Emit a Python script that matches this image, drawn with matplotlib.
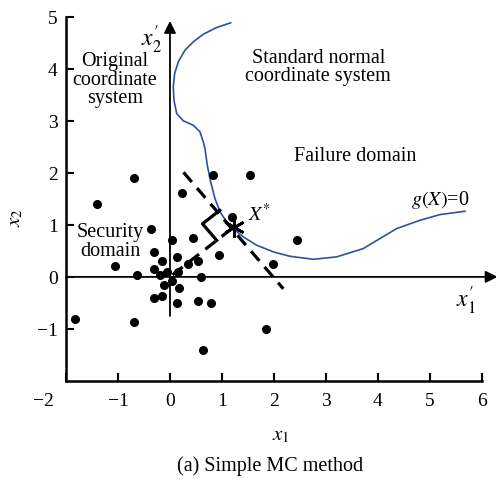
import matplotlib
matplotlib.use("Agg")
import matplotlib.pyplot as plt
import matplotlib.transforms as mtransforms
import numpy as np

plt.rcParams['font.family'] = 'Liberation Serif'
plt.rcParams['mathtext.fontset'] = 'stix'

# Monte Carlo sample points
sample_x = [-0.69, -1.41, -0.37, 0.04, -0.31, 0.13, -0.15, -1.06, -0.31, -0.06,
            -0.19, -0.64, 0.03, -0.12, 0.18, -0.31, -0.15, 0.14, 0.53, -1.82,
            -0.69, 0.64, 0.45, 0.24, 0.34, 0.53, 0.59, 0.83, 1.54, 1.19,
            2.44, 0.94, 1.99, 0.79, 1.85, 0.15]
sample_y = [1.90, 1.40, 0.92, 0.70, 0.48, 0.39, 0.30, 0.20, 0.15, 0.09,
            0.04, 0.03, -0.08, -0.15, -0.22, -0.41, -0.36, -0.51, -0.46, -0.81,
            -0.86, -1.40, 0.75, 1.61, 0.24, 0.31, -0.01, 1.96, 1.96, 1.15,
            0.71, 0.42, 0.25, -0.51, -1.01, 0.09]

# limit state curve g(X)=0
curve_x = [1.167, 0.898, 0.640, 0.448, 0.288, 0.160, 0.090, 0.063, 0.077, 0.129,
           0.256, 0.448, 0.577, 0.640, 0.673, 0.717, 0.783, 0.865, 0.962, 1.090,
           1.217, 1.410, 1.667, 1.987, 2.308, 2.756, 3.206, 3.717, 4.038, 4.360,
           4.808, 5.192, 5.673]
curve_y = [4.885, 4.794, 4.665, 4.519, 4.358, 4.135, 3.910, 3.654, 3.396, 3.140,
           3.000, 2.915, 2.788, 2.596, 2.467, 2.146, 1.827, 1.506, 1.250, 1.058,
           0.929, 0.769, 0.608, 0.481, 0.396, 0.338, 0.385, 0.544, 0.737, 0.929,
           1.088, 1.198, 1.262]

# design point and tangent line ends
xstar = (1.23, 0.96)
tangent_x = [0.26, 2.18]
tangent_y = [2.01, -0.23]

xticks = [-2, -1, 0, 1, 2, 3, 4, 5, 6]
yticks = [-1, 0, 1, 2, 3, 4, 5]

def fmt(t):
    return '\u2212%d' % -t if t < 0 else str(t)

fig = plt.figure(figsize=(4.96, 4.81), dpi=100)
ax = fig.add_axes([0.133, 0.206, 0.865, 0.757])
ax.set_xlim(-2, 6.25)
ax.set_ylim(-2, 5)

for s in ['top', 'right']:
    ax.spines[s].set_visible(False)
ax.spines['left'].set_bounds(-2, 5)
ax.spines['bottom'].set_bounds(-2, 6)
ax.spines['left'].set_linewidth(1.8)
ax.spines['bottom'].set_linewidth(1.8)

ax.set_xticks(xticks)
ax.set_yticks(yticks)
ax.set_xticklabels([fmt(t) for t in xticks])
ax.set_yticklabels([fmt(t) for t in yticks])
ax.tick_params(direction='in', length=6, width=1.5, labelsize=14, pad=8)
ax.tick_params(axis='y', pad=6)
# shift the corner label left
lab = ax.get_xticklabels()[0]
lab.set_transform(lab.get_transform() + mtransforms.ScaledTranslation(-0.23, 0, fig.dpi_scale_trans))

ax.set_xlabel('$x_1$', fontsize=15, labelpad=12)
ax.set_ylabel('$x_2$', fontsize=15)
ax.yaxis.set_label_coords(-0.095, 0.45)

# inner (standard normal) axes
ax.annotate('', xy=(6.3, 0), xytext=(-2, 0),
            arrowprops=dict(arrowstyle='-|>', color='black', lw=1.3,
                            mutation_scale=18, shrinkA=0, shrinkB=0),
            annotation_clip=False)
ax.annotate('', xy=(0, 4.92), xytext=(0, -0.75),
            arrowprops=dict(arrowstyle='-|>', color='black', lw=1.3,
                            mutation_scale=18, shrinkA=0, shrinkB=0),
            annotation_clip=False)

ax.plot(curve_x, curve_y, color='#2f4fa0', lw=1.2, solid_joinstyle='round')

# dashed lines
ax.plot([0.05, xstar[0]], [0.04, xstar[1]], color='black', lw=2.3,
        dashes=(4, 2.5))
ax.plot(tangent_x, tangent_y, color='black', lw=2.3, dashes=(4, 2.5))

# right angle marker
r = np.array(xstar) / np.hypot(*xstar)
t = np.array([tangent_x[0] - tangent_x[1], tangent_y[0] - tangent_y[1]])
t = t / np.hypot(*t)
d = 0.42
p0 = np.array(xstar)
c1 = p0 + d * t
c2 = p0 + d * t - d * r
c3 = p0 - d * r
ax.plot([c1[0], c2[0], c3[0]], [c1[1], c2[1], c3[1]], color='black', lw=2.3)

ax.plot(sample_x, sample_y, 'o', color='black', ms=5.5)
ax.plot(*xstar, marker=(6, 2, 0), color='black', ms=15, mew=2)

fs = 14.5
ax.text(-1.06, 3.8, 'Original\ncoordinate\nsystem', ha='center', va='center',
        fontsize=fs, linespacing=0.95)
ax.text(2.85, 4.04, 'Standard normal\ncoordinate system', ha='center', va='center',
        fontsize=fs, linespacing=0.95)
ax.text(3.56, 2.33, 'Failure domain', ha='center', va='center', fontsize=fs)
ax.text(5.2, 1.5, '$g(X)$=0', ha='center', va='center', fontsize=fs)
ax.text(1.5, 1.2, '$X^{*}$', ha='left', va='center', fontsize=fs)
ax.text(-1.15, 0.69, 'Security\ndomain', ha='center', va='center',
        fontsize=fs, linespacing=0.95)
ax.text(-0.36, 4.58, r'$x_2^{\prime}$', ha='center', va='center', fontsize=17)
ax.text(5.69, -0.45, r'$x_1^{\prime}$', ha='center', va='center', fontsize=17)

fig.text(0.544, 0.031, '(a) Simple MC method', ha='center', va='center', fontsize=fs)

fig.savefig('out.png', dpi=100)
